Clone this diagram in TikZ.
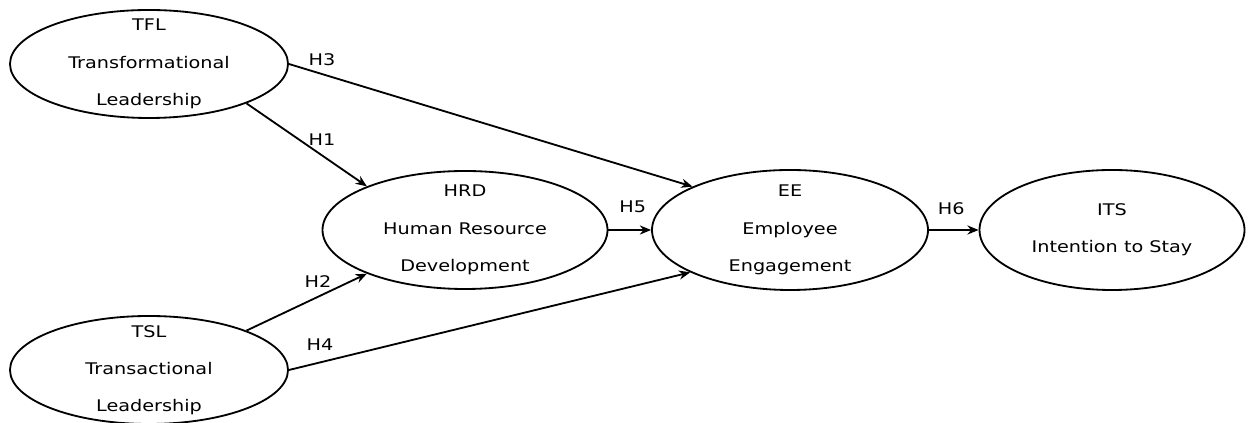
\documentclass[tikz,border=0pt]{standalone}
\usepackage{fontspec}
\setmainfont{DejaVu Sans}[FakeStretch=1.2]
\usepackage{tikz}
\usetikzlibrary{shapes.geometric,arrows.meta}

\tikzset{
    construct/.style={draw, ellipse, line width=1.3pt, inner sep=0pt},
    cname/.style={align=center, font=\fontsize{11.4}{26.5}\selectfont},
    hpath/.style={line width=1.3pt, -{Stealth[length=8pt, width=6.5pt]}},
    hyp/.style={font=\fontsize{11.4}{13}\selectfont}
}

\begin{document}
\begin{tikzpicture}
    \useasboundingbox (0, 0) rectangle (31.325, 10.575);

    % constructs
    \node[construct, minimum width=6.95cm, minimum height=2.7cm,
        label={[cname]center:TFL\\Transformational\\Leadership}]
        (tfl) at (3.725, 8.975) {};
    \node[construct, minimum width=6.95cm, minimum height=2.7cm,
        label={[cname]center:TSL\\Transactional\\Leadership}]
        (tsl) at (3.725, 1.325) {};
    \node[construct, minimum width=7.125cm, minimum height=2.95cm,
        label={[cname]center:HRD\\Human Resource\\Development}]
        (hrd) at (11.625, 4.825) {};
    \node[construct, minimum width=6.9cm, minimum height=3cm,
        label={[cname]center:EE\\Employee\\Engagement}]
        (ee) at (19.75, 4.825) {};
    \node[construct, minimum width=6.625cm, minimum height=3cm,
        label={[cname]center:ITS\\Intention to Stay}]
        (its) at (27.8, 4.825) {};

    % hypotheses
    \draw[hpath] (tfl.-22) -- (hrd.156);
    \draw[hpath] (tsl.22) -- (hrd.204);
    \draw[hpath] (tfl.east) -- (ee.156);
    \draw[hpath] (tsl.east) -- (ee.203);
    \draw[hpath] (hrd.east) -- (ee.west);
    \draw[hpath] (ee.east) -- (its.west);

    \node[hyp] (h1) at (8.05, 7.075) {H1};
    \node[hyp] (h2) at (7.95, 3.525) {H2};
    \node[hyp] (h3) at (8.05, 9.075) {H3};
    \node[hyp] (h4) at (8.0, 1.95) {H4};
    \node[hyp] (h5) at (15.82, 5.4) {H5};
    \node[hyp] (h6) at (23.78, 5.35) {H6};
\end{tikzpicture}
\end{document}
